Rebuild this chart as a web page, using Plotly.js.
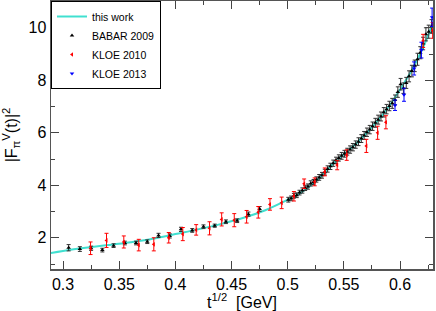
<!DOCTYPE html>
<html>
<head>
<meta charset="utf-8">
<script src="https://cdn.plot.ly/plotly-3.0.1.min.js"></script>
<style>html,body{margin:0;padding:0;background:#fff;}#chart{width:436px;height:311px;}</style>
</head>
<body>
<div id="chart"></div>
<script>
// "this work" curve
const curveX = [0.289,0.30,0.32,0.34,0.36,0.38,0.40,0.42,0.44,0.46,0.48,0.50,0.51,0.52,0.53,0.54,0.55,0.56,0.57,0.58,0.59,0.60,0.61,0.62,0.63];
const curveY = [1.42,1.50,1.62,1.72,1.83,1.96,2.14,2.32,2.52,2.75,3.05,3.45,3.67,3.98,4.35,4.80,5.18,5.55,5.98,6.45,7.00,7.65,8.35,9.20,10.25];

// BABAR 2009
const babarX = [0.305,0.315,0.325,0.335,0.345,0.355,0.365,0.375,0.385,0.395,0.405,0.415,0.425,0.435,0.445,0.455,0.465,0.475,
  0.5005,0.503,0.5055,0.508,0.5105,0.513,0.5155,0.518,0.5205,0.523,0.5255,0.528,0.5305,0.533,0.5355,0.538,0.5405,0.543,0.5455,0.548,
  0.5505,0.553,0.5555,0.558,0.5605,0.563,0.5655,0.568,0.5705,0.573,0.5755,0.578,0.5805,0.583,0.5855,0.588,0.5905,0.593,0.5955,0.598,
  0.6005,0.603,0.6055,0.608,0.6105,0.613,0.6155,0.618,0.6205,0.623,0.6255,0.628,0.6305];
const babarY = [1.62,1.57,1.60,1.53,1.70,1.80,1.80,1.85,2.09,2.07,2.32,2.28,2.42,2.46,2.61,2.65,2.90,3.10,
  3.45,3.50,3.60,3.62,3.72,3.80,3.90,3.95,4.07,4.12,4.22,4.30,4.38,4.50,4.62,4.72,4.84,4.95,5.04,5.12,
  5.20,5.28,5.36,5.45,5.55,5.66,5.78,5.90,6.02,6.12,6.25,6.38,6.50,6.62,6.78,6.90,7.02,7.12,7.25,7.55,
  7.85,7.70,7.90,8.15,8.35,8.55,8.80,9.05,9.40,9.75,9.85,10.05,10.15];
const babarErr = [0.12,0.09,0.08,0.07,0.07,0.07,0.07,0.07,0.08,0.08,0.08,0.07,0.07,0.06,0.07,0.07,0.08,0.09,
  0.09,0.09,0.09,0.09,0.09,0.10,0.10,0.10,0.10,0.10,0.10,0.11,0.11,0.11,0.12,0.12,0.12,0.12,0.12,0.13,
  0.13,0.13,0.14,0.14,0.14,0.15,0.15,0.15,0.16,0.16,0.16,0.17,0.17,0.17,0.18,0.18,0.18,0.19,0.19,0.20,
  0.22,0.20,0.21,0.21,0.22,0.22,0.23,0.23,0.24,0.25,0.25,0.26,0.27];

// KLOE 2010
const kloe10X = [0.3245,0.3387,0.3541,0.3674,0.3808,0.3941,0.4066,0.4185,0.4304,0.4412,0.4524,0.4634,0.4738,0.4842,0.4946,0.5055,0.5146,0.524,0.533,0.544,0.5525,0.570,0.580,0.5874,0.6205,0.629];
const kloe10Y = [1.60,1.90,1.84,1.72,1.75,2.00,2.14,2.30,2.36,2.70,2.67,2.80,2.97,3.27,3.33,3.58,4.06,4.13,4.51,4.77,5.15,5.50,6.00,6.40,9.50,9.90];
const kloe10Err = [0.24,0.27,0.23,0.22,0.25,0.20,0.25,0.20,0.25,0.25,0.25,0.24,0.22,0.22,0.22,0.18,0.18,0.15,0.15,0.18,0.20,0.25,0.25,0.25,0.25,0.30];

// KLOE 2013
const kloe13X = [0.5955,0.6035,0.6125,0.6190,0.6285];
const kloe13Y = [7.05,7.45,8.45,9.15,10.40];
const kloe13Err = [0.20,0.25,0.25,0.30,0.35];

const xTickVals = [0.3,0.35,0.4,0.45,0.5,0.55,0.6];
const xTickText = ['0.3','0.35','0.4','0.45','0.5','0.55','0.6'];
const yTickVals = [2,4,6,8,10];

const font = {family: 'Liberation Sans, Arial, sans-serif', color: '#000'};

const traces = [
  {x: curveX, y: curveY, type: 'scatter', mode: 'lines', name: 'this work',
   line: {color: '#40E0D0', width: 2, shape: 'spline'}},
  {x: babarX, y: babarY, type: 'scatter', mode: 'markers', name: 'BABAR 2009',
   marker: {symbol: 'triangle-up', size: 4, color: '#000'},
   error_y: {type: 'data', array: babarErr, visible: true, color: '#333', thickness: 1, width: 2}},
  {x: kloe10X, y: kloe10Y, type: 'scatter', mode: 'markers', name: 'KLOE 2010',
   marker: {symbol: 'triangle-left', size: 4, color: '#ff0000'},
   error_y: {type: 'data', array: kloe10Err, visible: true, color: '#ff0000', thickness: 1, width: 2}},
  {x: kloe13X, y: kloe13Y, type: 'scatter', mode: 'markers', name: 'KLOE 2013',
   marker: {symbol: 'triangle-down', size: 4, color: '#0000ff'},
   error_y: {type: 'data', array: kloe13Err, visible: true, color: '#0000ff', thickness: 1, width: 2}}
];

const axisCommon = {
  showline: true, linecolor: '#555', linewidth: 1.5, mirror: 'ticks',
  ticks: 'inside', ticklen: 8, tickwidth: 1, tickcolor: '#444',
  showgrid: false, zeroline: false,
  tickfont: Object.assign({size: 16}, font)
};

const layout = {
  width: 436, height: 311,
  margin: {l: 51, r: 2.5, t: 1, b: 42},
  paper_bgcolor: '#fff', plot_bgcolor: '#fff',
  showlegend: true,
  legend: {x: 0, y: 1, xanchor: 'left', yanchor: 'top', bgcolor: '#fff',
    bordercolor: '#000', borderwidth: 1, font: Object.assign({size: 10.5}, font),
    tracegroupgap: 0, itemwidth: 30},
  xaxis: Object.assign({}, axisCommon, {
    range: [0.2893, 0.6293], tickvals: xTickVals, ticktext: xTickText,
    minor: {dtick: 0.025, tick0: 0.275, ticks: 'inside', ticklen: 4, tickcolor: '#444'},
    title: {text: 't<sup>1/2</sup>  [GeV]', font: Object.assign({size: 16}, font), standoff: 9}
  }),
  yaxis: Object.assign({}, axisCommon, {
    range: [0.81, 11.02], tickvals: yTickVals,
    minor: {dtick: 1, tick0: 1, ticks: 'inside', ticklen: 4, tickcolor: '#444'},
    title: {text: '|F<sub>π</sub><sup>V</sup>(t)|<sup>2</sup>', font: Object.assign({size: 16}, font), standoff: 8}
  })
};

Plotly.newPlot('chart', traces, layout, {displayModeBar: false, staticPlot: true});
</script>
</body>
</html>
